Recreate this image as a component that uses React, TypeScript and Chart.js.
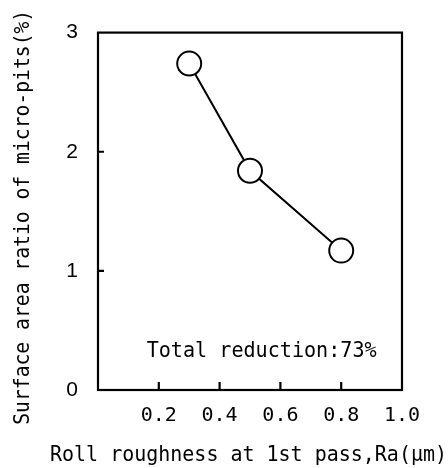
import { useEffect, useRef } from 'react';
import { Chart, registerables } from 'chart.js';

Chart.register(...registerables);

const roughness = [0.3, 0.5, 0.8];
const pitRatio = [2.74, 1.84, 1.17];
const xInnerTicks = [0.2, 0.4, 0.6, 0.8];
const yInnerTicks = [1, 2];
const xTitle = 'Roll roughness at 1st pass,Ra(μm)';
const yTitle = 'Surface area ratio of micro-pits(%)';
const note = 'Total reduction:73%';
const noteAt = [0.16, 0.32];

const MONO = '"DejaVu Sans Mono", monospace';
const SANS = '"Liberation Sans", Arial, sans-serif';

const framePlugin = {
  id: 'frame',
  beforeDatasetsDraw(chart: any) {
    const { ctx, chartArea: a, scales } = chart;
    const x = scales.x;
    const y = scales.y;
    ctx.save();
    ctx.strokeStyle = '#000';
    ctx.lineWidth = 2.2;
    ctx.strokeRect(a.left, a.top, a.right - a.left, a.bottom - a.top);
    ctx.beginPath();
    for (const v of xInnerTicks) {
      const px = x.getPixelForValue(v);
      ctx.moveTo(px, a.bottom);
      ctx.lineTo(px, a.bottom - 8);
    }
    for (const v of yInnerTicks) {
      const py = y.getPixelForValue(v);
      ctx.moveTo(a.left, py);
      ctx.lineTo(a.left + 6, py);
    }
    ctx.stroke();
    ctx.fillStyle = '#000';
    ctx.textBaseline = 'middle';
    // annotation
    ctx.font = `21px ${MONO}`;
    ctx.textAlign = 'left';
    ctx.fillText(note, x.getPixelForValue(noteAt[0]), y.getPixelForValue(noteAt[1]), 230);
    // x title
    ctx.textAlign = 'center';
    ctx.fillText(xTitle, (a.left + a.right) / 2 - 1.5, 455.5, 397);
    // y title
    ctx.save();
    ctx.translate(23.5, (a.top + a.bottom) / 2 + 6);
    ctx.rotate(-Math.PI / 2);
    ctx.fillText(yTitle, 0, 0, 415);
    ctx.restore();
    ctx.restore();
  },
};

export default function App() {
  const ref = useRef<HTMLCanvasElement>(null);
  useEffect(() => {
    if (!ref.current) return;
    const chart = new Chart(ref.current, {
      type: 'line',
      data: {
        datasets: [
          {
            data: roughness.map((r, i) => ({ x: r, y: pitRatio[i] })),
            borderColor: '#000',
            borderWidth: 2,
            tension: 0,
            pointRadius: 12,
            pointBorderWidth: 2,
            pointBorderColor: '#000',
            pointBackgroundColor: '#fff',
          },
        ],
      },
      options: {
        animation: false,
        responsive: false,
        layout: { padding: { top: 32, right: 46, left: 0, bottom: 0 } },
        plugins: { legend: { display: false }, tooltip: { enabled: false } },
        scales: {
          x: {
            type: 'linear',
            min: 0,
            max: 1,
            grid: { display: false, drawTicks: false },
            border: { display: false },
            ticks: {
              stepSize: 0.2,
              padding: 14,
              color: '#000',
              font: { family: MONO, size: 20 },
              callback: (v: any) => (Number(v) === 0 ? '' : Number(v).toFixed(1)),
            },
            title: { display: false },
            afterFit: (s: any) => {
              s.height = 78;
            },
          },
          y: {
            min: 0,
            max: 3,
            grid: { display: false, drawTicks: false },
            border: { display: false },
            ticks: {
              stepSize: 1,
              padding: 20,
              color: '#000',
              font: { family: SANS, size: 21 },
            },
            title: { display: false },
            afterFit: (s: any) => {
              s.width = 98;
            },
          },
        },
      },
      plugins: [framePlugin],
    });
    return () => chart.destroy();
  }, []);
  return (
    <div style={{ position: 'fixed', left: 0, top: 0, width: 448, height: 468, background: '#fff' }}>
      <canvas ref={ref} width={448} height={468} style={{ display: 'block' }} />
    </div>
  );
}
